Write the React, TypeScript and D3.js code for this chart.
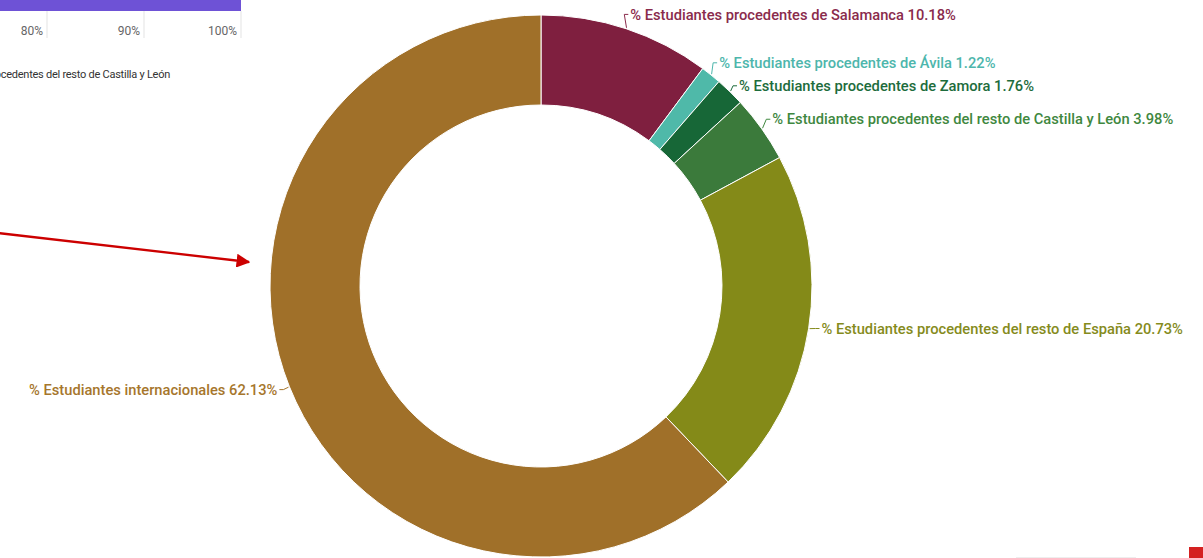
import * as d3 from "d3";
import { useEffect, useRef } from "react";

const categories = [
  "% Estudiantes procedentes de Salamanca",
  "% Estudiantes procedentes de Ávila",
  "% Estudiantes procedentes de Zamora",
  "% Estudiantes procedentes del resto de Castilla y León",
  "% Estudiantes procedentes del resto de España",
  "% Estudiantes internacionales",
];
const values = [10.18, 1.22, 1.76, 3.98, 20.73, 62.13];
const colors = ["#7f1f3f", "#4fb9a9", "#176737", "#3b7a3b", "#848a18", "#a07029"];
const labelColors = ["#8a2b4c", "#4db6ac", "#1d6c3c", "#3f883f", "#858b1c", "#a6762c"];

// partial bar chart peeking in at top-left
const axisTicks = [80, 90, 100];
const barValue = 100;
const legendLabel = "% Estudiantes procedentes del resto de Castilla y León";

const W = 1203;
const H = 558;

export default function App() {
  const ref = useRef<SVGSVGElement | null>(null);

  useEffect(() => {
    const svg = d3.select(ref.current);
    svg.selectAll("*").remove();

    // --- clipped bar chart fragment ---
    const x = d3.scaleLinear().domain([0, 100]).range([241 - 970, 241]);
    svg
      .append("rect")
      .attr("x", x(0))
      .attr("y", 0)
      .attr("width", x(barValue) - x(0))
      .attr("height", 11)
      .attr("fill", "#6e52d6");
    const ax = svg.append("g");
    axisTicks.forEach((t) => {
      ax.append("line")
        .attr("x1", x(t))
        .attr("x2", x(t))
        .attr("y1", 11)
        .attr("y2", 38)
        .attr("stroke", "#e3e3e3");
      ax.append("text")
        .attr("x", x(t) - 4)
        .attr("y", 35)
        .attr("text-anchor", "end")
        .attr("font-size", 12)
        .attr("fill", "#666")
        .text(`${t}%`);
    });
    svg
      .append("text")
      .attr("x", 170)
      .attr("y", 78)
      .attr("text-anchor", "end")
      .attr("font-size", 11)
      .attr("letter-spacing", -0.25)
      .attr("fill", "#333")
      .text(legendLabel);

    // --- donut ---
    const cx = 541;
    const cy = 286;
    const R = 271;
    const r = 181;
    const pie = d3.pie<number>().sort(null).value((d) => d);
    const arcs = pie(values);
    const arc = d3.arc<d3.PieArcDatum<number>>().innerRadius(r).outerRadius(R);

    const g = svg.append("g").attr("transform", `translate(${cx},${cy})`);
    g.selectAll("path.slice")
      .data(arcs)
      .join("path")
      .attr("class", "slice")
      .attr("d", arc)
      .attr("fill", (_, i) => colors[i])
      .attr("stroke", "#fff")
      .attr("stroke-width", 1);

    const dist = 13;
    const pts = arcs.map((a, i) => {
      const m = (a.startAngle + a.endAngle) / 2;
      return {
        i,
        m,
        ax: Math.sin(m) * (R + 1),
        ay: -Math.cos(m) * (R + 1),
        lx: Math.sin(m) * (R + dist),
        ly: -Math.cos(m) * (R + dist) - 2,
        right: Math.sin(m) >= 0,
      };
    });
    // simple collision push-down for right side labels
    const rightSide = pts.filter((p) => p.right).sort((a, b) => a.ly - b.ly);
    for (let k = 1; k < rightSide.length; k++) {
      if (rightSide[k].ly < rightSide[k - 1].ly + 23) rightSide[k].ly = rightSide[k - 1].ly + 23;
    }

    pts.forEach((p) => {
      const sx = p.right ? p.lx - 2 : p.lx + 2;
      const mx = p.right ? sx - 4 : sx + 4;
      g.append("path")
        .attr("d", `M${p.ax},${p.ay} L${mx},${p.ly} L${sx},${p.ly}`)
        .attr("fill", "none")
        .attr("stroke", labelColors[p.i])
        .attr("stroke-width", 1);
      g.append("text")
        .attr("x", p.lx)
        .attr("y", p.ly)
        .attr("dy", "0.35em")
        .attr("text-anchor", p.right ? "start" : "end")
        .attr("font-size", 14.7)
        .attr("font-weight", 500)
        .attr("fill", labelColors[p.i])
        .text(`${categories[p.i]} ${values[p.i].toFixed(2)}%`);
    });

    // --- annotation arrow ---
    svg
      .append("defs")
      .append("marker")
      .attr("id", "arrowhead")
      .attr("viewBox", "0 0 10 10")
      .attr("refX", 9)
      .attr("refY", 5)
      .attr("markerWidth", 6)
      .attr("markerHeight", 6)
      .attr("markerUnits", "strokeWidth")
      .attr("orient", "auto")
      .append("path")
      .attr("d", "M0,0 L10,5 L0,10 Z")
      .attr("fill", "#cc0000");
    svg
      .append("line")
      .attr("x1", -2)
      .attr("y1", 233)
      .attr("x2", 249)
      .attr("y2", 262)
      .attr("stroke", "#cc0000")
      .attr("stroke-width", 2.3)
      .attr("marker-end", "url(#arrowhead)");

    // bottom-right fragments
    svg
      .append("line")
      .attr("x1", 1016)
      .attr("x2", 1136)
      .attr("y1", 557.5)
      .attr("y2", 557.5)
      .attr("stroke", "#eee");
    svg
      .append("rect")
      .attr("x", 1189)
      .attr("y", 547)
      .attr("width", 14)
      .attr("height", 11)
      .attr("fill", "#d42121");
  }, []);

  return (
    <svg
      ref={ref}
      width={W}
      height={H}
      style={{
        position: "absolute",
        left: 0,
        top: 0,
        background: "#fff",
        fontFamily: "Roboto, 'Noto Sans', sans-serif",
      }}
    />
  );
}
